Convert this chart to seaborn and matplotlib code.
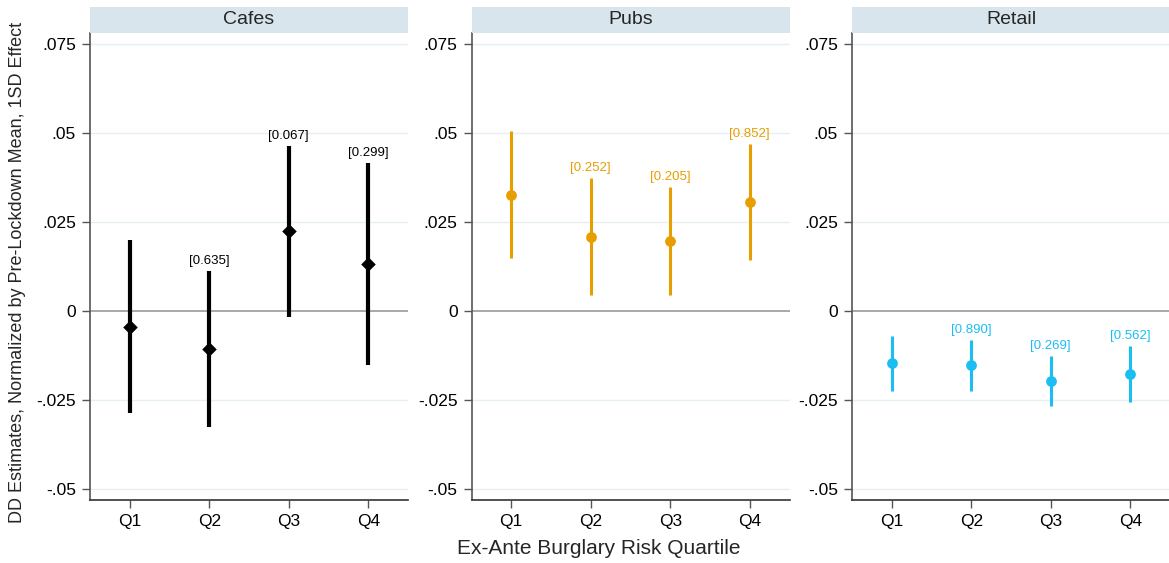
import matplotlib
matplotlib.use("Agg")
import matplotlib.pyplot as plt
import seaborn as sns
import pandas as pd

# Difference-in-differences estimates by ex-ante burglary risk quartile
quartiles = ["Q1", "Q2", "Q3", "Q4"]
panels = ["Cafes", "Pubs", "Retail"]

cafes_est = [-0.0044, -0.0107, 0.0225, 0.0131]
cafes_lo = [-0.0287, -0.0327, -0.0016, -0.0153]
cafes_hi = [0.0200, 0.0113, 0.0464, 0.0415]
cafes_p = ["", "[0.635]", "[0.067]", "[0.299]"]

pubs_est = [0.0326, 0.0209, 0.0197, 0.0305]
pubs_lo = [0.0148, 0.0045, 0.0045, 0.0143]
pubs_hi = [0.0506, 0.0374, 0.0349, 0.0469]
pubs_p = ["", "[0.252]", "[0.205]", "[0.852]"]

retail_est = [-0.0147, -0.0153, -0.0197, -0.0176]
retail_lo = [-0.0225, -0.0225, -0.0267, -0.0255]
retail_hi = [-0.0069, -0.0081, -0.0126, -0.0099]
retail_p = ["", "[0.890]", "[0.269]", "[0.562]"]

ytick_vals = [-0.05, -0.025, 0, 0.025, 0.05, 0.075]
ytick_labels = ["-.05", "-.025", "0", ".025", ".05", ".075"]

sns.set_theme(style="white")
plt.rcParams["font.family"] = ["Liberation Sans", "DejaVu Sans"]

frames = []
for name, est, lo, hi, p in [
    ("Cafes", cafes_est, cafes_lo, cafes_hi, cafes_p),
    ("Pubs", pubs_est, pubs_lo, pubs_hi, pubs_p),
    ("Retail", retail_est, retail_lo, retail_hi, retail_p),
]:
    frames.append(pd.DataFrame({"panel": name, "quartile": quartiles,
                                "est": est, "lo": lo, "hi": hi, "p": p}))
df = pd.concat(frames, ignore_index=True)

styles = {
    "Cafes": dict(color="#000000", marker="D", size=55, lw=3.0),
    "Pubs": dict(color="#E89E00", marker="o", size=60, lw=2.2),
    "Retail": dict(color="#1BBEF2", marker="o", size=60, lw=2.2),
}

fig = plt.figure(figsize=(11.69, 5.63), dpi=100)
lefts = [90, 471.5, 852]
W, H = 1169, 563
ax_bottom, ax_top = 500, 33
strip_h = 26

for left, name in zip(lefts, panels):
    ax = fig.add_axes([left / W, 1 - ax_bottom / H, 318 / W, (ax_bottom - ax_top) / H])
    sub = df[df["panel"] == name].reset_index(drop=True)
    st = styles[name]
    xpos = list(range(len(sub)))

    for y in ytick_vals:
        if y != 0:
            ax.axhline(y, color="#E6EFF2", lw=1.0, zorder=0)
    ax.axhline(0, color="#9A9A9A", lw=1.2, zorder=1)

    ax.vlines(xpos, sub["lo"], sub["hi"], color=st["color"], lw=st["lw"], zorder=2)
    sns.scatterplot(x=xpos, y=sub["est"], ax=ax, color=st["color"], marker=st["marker"],
                    s=st["size"], edgecolor=st["color"], linewidth=0, zorder=3, legend=False)
    for i, row in sub.iterrows():
        if row["p"]:
            ax.annotate(row["p"], (i, row["hi"]), xytext=(0, 3), textcoords="offset points",
                        ha="center", va="bottom", fontsize=9.5, color=st["color"])

    ax.set_xlim(-0.5, 3.5)
    ax.set_ylim(-0.05309, 0.07809)
    ax.set_xticks(xpos)
    ax.set_xticklabels(quartiles, fontsize=12.5)
    ax.set_yticks(ytick_vals)
    ax.set_yticklabels(ytick_labels, fontsize=12.5)
    ax.tick_params(axis="both", direction="out", length=6, width=1.0, color="#555555",
                   left=True, bottom=True, pad=4, labelcolor="black")
    ax.set_xlabel("")
    ax.set_ylabel("")
    for s in ["top", "right"]:
        ax.spines[s].set_visible(False)
    ax.spines["left"].set_color("#555555")
    ax.spines["bottom"].set_color("#333333")
    ax.spines["left"].set_linewidth(1.2)
    ax.spines["bottom"].set_linewidth(1.2)

    # facet strip
    strip = fig.add_axes([left / W, 1 - ax_top / H, 318 / W, strip_h / H])
    strip.set_facecolor("#D9E5EC")
    strip.set_xticks([])
    strip.set_yticks([])
    for s in strip.spines.values():
        s.set_visible(False)
    strip.text(0.5, 0.5, name, ha="center", va="center", fontsize=14, transform=strip.transAxes)

fig.text(599 / W, 1 - 549 / H, "Ex-Ante Burglary Risk Quartile", ha="center", va="center",
         fontsize=15)
fig.text(18 / W, 1 - 272 / H, "DD Estimates, Normalized by Pre-Lockdown Mean, 1SD Effect",
         ha="center", va="center", rotation=90, fontsize=13)

fig.savefig("out.png", dpi=100, facecolor="white")
